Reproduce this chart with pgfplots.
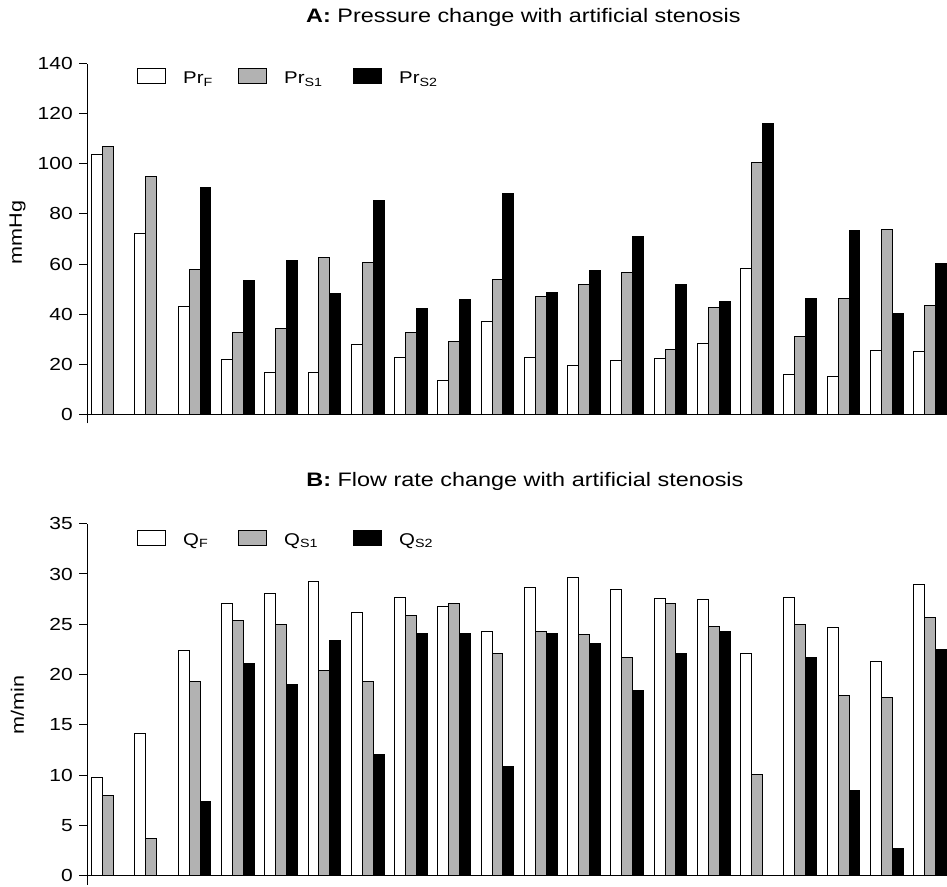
\documentclass[border=0pt]{standalone}
\usepackage{fontspec}
\setmainfont{Liberation Sans}[FakeStretch=1.2]
\usepackage{pgfplots}
\pgfplotsset{compat=1.18}

\pgfplotsset{
  mybars/.style={
    scale only axis, width=859.7pt,
    xmin=0.52, xmax=20.39,
    axis x line=middle, axis y line=left,
    axis line style={-, line width=1pt, black},
    xtick=\empty,
    tick align=outside, major tick length=8pt,
    ytick style={line width=1pt, black},
    yticklabel style={font=\fontsize{17.5}{20}\selectfont, xshift=-3pt},
    /pgf/number format/assume math mode=true,
    ybar, bar width=0.252,
    legend columns=3,
    legend image code/.code={\draw[#1, line width=1pt] (0pt,0pt) rectangle (28pt,15pt);},
    legend style={draw=none, fill=none, inner sep=0pt, anchor=north west,
      font=\fontsize{17}{20}\selectfont, column sep=17pt,
      nodes={inner sep=0pt}, cells={anchor=base west}},
    ylabel style={anchor=center, font=\fontsize{18}{21}\selectfont},
    title style={anchor=base, font=\fontsize{19.5}{23}\selectfont},
  },
  sF/.style={draw=black, line width=1pt, fill=white, bar shift=-0.252},
  sA/.style={draw=black, line width=1pt, fill=gray!60, bar shift=0},
  sB/.style={draw=black, line width=1pt, fill=black, bar shift=0.252},
}

\begin{document}
\begin{tikzpicture}
\useasboundingbox (0pt,0pt) rectangle (947pt,886pt);

% ---------- A: pressure ----------
\begin{axis}[mybars,
  at={(87.3pt,462.7pt)}, anchor=south west,
  height=359.6pt, ymin=-3.6, ymax=140, ytick={0,20,...,140},
  ylabel={mmHg},
  ylabel style={at={(axis description cs:-0.0812,0.5306)}},
  title={\textbf{A:} Pressure change with artificial stenosis},
  title style={at={(axis description cs:0.5073,1)}, yshift=34.7pt},
  legend style={at={(axis description cs:0.0578,0.9872)}},
]
\addplot[sF] coordinates {(1,103.7) (2,72.3) (3,42.9) (4,22.0) (5,16.5) (6,16.5) (7,27.8) (8,22.6) (9,13.3) (10,37.0) (11,22.6) (12,19.3) (13,21.4) (14,22.4) (15,28.4) (16,58.1) (17,15.7) (18,15.0) (19,25.4) (20,25.2)};
\addplot[sA] coordinates {(1,106.8) (2,95.1) (3,57.8) (4,32.5) (5,34.4) (6,62.7) (7,60.6) (8,32.6) (9,29.0) (10,53.9) (11,47.0) (12,51.8) (13,56.6) (14,26.0) (15,42.5) (16,100.4) (17,31.0) (18,46.3) (19,73.9) (20,43.4)};
\addplot[sB] coordinates {(3,90.4) (4,53.5) (5,61.5) (6,48.1) (7,85.5) (8,42.3) (9,45.7) (10,88.3) (11,48.7) (12,57.5) (13,71.0) (14,51.9) (15,45.0) (16,116.0) (17,46.3) (18,73.2) (19,40.1) (20,60.1)};
\legend{\makebox[38pt][l]{Pr\textsubscript{F}}, \makebox[52pt][l]{Pr\textsubscript{S1}}, Pr\textsubscript{S2}}
\end{axis}

% ---------- B: flow rate ----------
\begin{axis}[mybars,
  at={(87.3pt,1.25pt)}, anchor=south west,
  height=361.05pt, ymin=-0.9, ymax=35, ytick={0,5,...,35},
  ylabel={m/min},
  ylabel style={at={(axis description cs:-0.0812,0.498)}},
  title={\textbf{B:} Flow rate change with artificial stenosis},
  title style={at={(axis description cs:0.5091,1)}, yshift=30.7pt},
  legend style={at={(axis description cs:0.0578,0.984)}},
]
\addplot[sF] coordinates {(1,9.74) (2,14.15) (3,22.4) (4,27.05) (5,28.04) (6,29.27) (7,26.18) (8,27.68) (9,26.72) (10,24.26) (11,28.64) (12,29.70) (13,28.44) (14,27.58) (15,27.48) (16,22.07) (17,27.64) (18,24.63) (19,21.25) (20,28.94)};
\addplot[sA] coordinates {(1,7.99) (2,3.68) (3,19.26) (4,25.36) (5,25.02) (6,20.38) (7,19.26) (8,25.92) (9,27.05) (10,22.07) (11,24.33) (12,24.03) (13,21.74) (14,27.11) (15,24.76) (16,10.04) (17,25.02) (18,17.87) (19,17.73) (20,25.69)};
\addplot[sB] coordinates {(3,7.39) (4,21.11) (5,19.06) (6,23.40) (7,12.03) (8,24.06) (9,24.06) (10,10.84) (11,24.06) (12,23.04) (13,18.46) (14,22.14) (15,24.33) (17,21.71) (18,8.45) (19,2.72) (20,22.54)};
\legend{\makebox[38pt][l]{Q\textsubscript{F}}, \makebox[52pt][l]{Q\textsubscript{S1}}, Q\textsubscript{S2}}
\end{axis}
\end{tikzpicture}
\end{document}
